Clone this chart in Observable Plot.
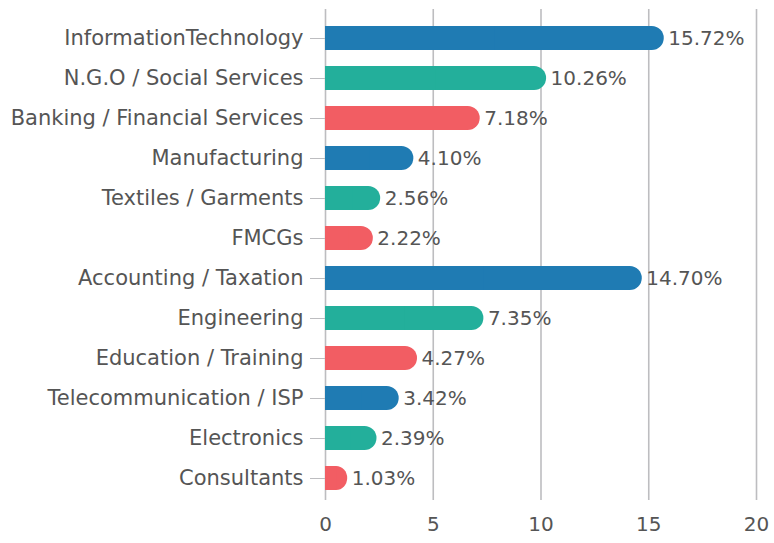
<!DOCTYPE html>
<html><head><meta charset="utf-8">
<script src="https://cdn.jsdelivr.net/npm/d3@7"></script>
<script src="https://cdn.jsdelivr.net/npm/@observablehq/plot@0.6"></script>
<style>body{margin:0;background:#fff;} svg{font-family:"DejaVu Sans",sans-serif;}</style>
</head><body><div id="chart"></div>
<script>
const categories = ["InformationTechnology","N.G.O / Social Services","Banking / Financial Services","Manufacturing","Textiles / Garments","FMCGs","Accounting / Taxation","Engineering","Education / Training","Telecommunication / ISP","Electronics","Consultants"];
const values = [15.72,10.26,7.18,4.10,2.56,2.22,14.70,7.35,4.27,3.42,2.39,1.03];
const palette = ["#1f7bb3","#23af9b","#f25d63"];
const xTicks = [0,5,10,15,20];
const data = categories.map((c,i)=>({cat:c, v:values[i], color:palette[i%3]}));
const chart = Plot.plot({
  width:774, height:543,
  marginLeft:325, marginRight:18, marginTop:9, marginBottom:37,
  style:{fontSize:"18px", color:"#555", fontFamily:"'DejaVu Sans',sans-serif"},
  x:{domain:[0,20], ticks:xTicks, tickSize:0, label:null},
  y:{domain:categories, padding:0.4, label:null},
  marks:[
    Plot.ruleX(xTicks,{stroke:"#bdbdc0", strokeWidth:1.6, insetBottom:6}),
    Plot.barX(data,{y:"cat", x1:0, x2:"v", fill:"color", rx:12}),
    Plot.barX(data,{y:"cat", x1:0, x2:d=>d.v/2, fill:"color"}),
    Plot.text(data,{y:"cat", x:"v", text:d=>d.v.toFixed(2)+"%", textAnchor:"start", dx:4, fill:"#555", fontSize:20}),
    Plot.axisY({tickSize:15, tickPadding:7, stroke:"#bdbdc0", fontSize:21}),
    Plot.axisX({ticks:xTicks, tickSize:0, tickPadding:10, fontSize:20})
  ]
});
document.getElementById("chart").appendChild(chart);
</script></body></html>
